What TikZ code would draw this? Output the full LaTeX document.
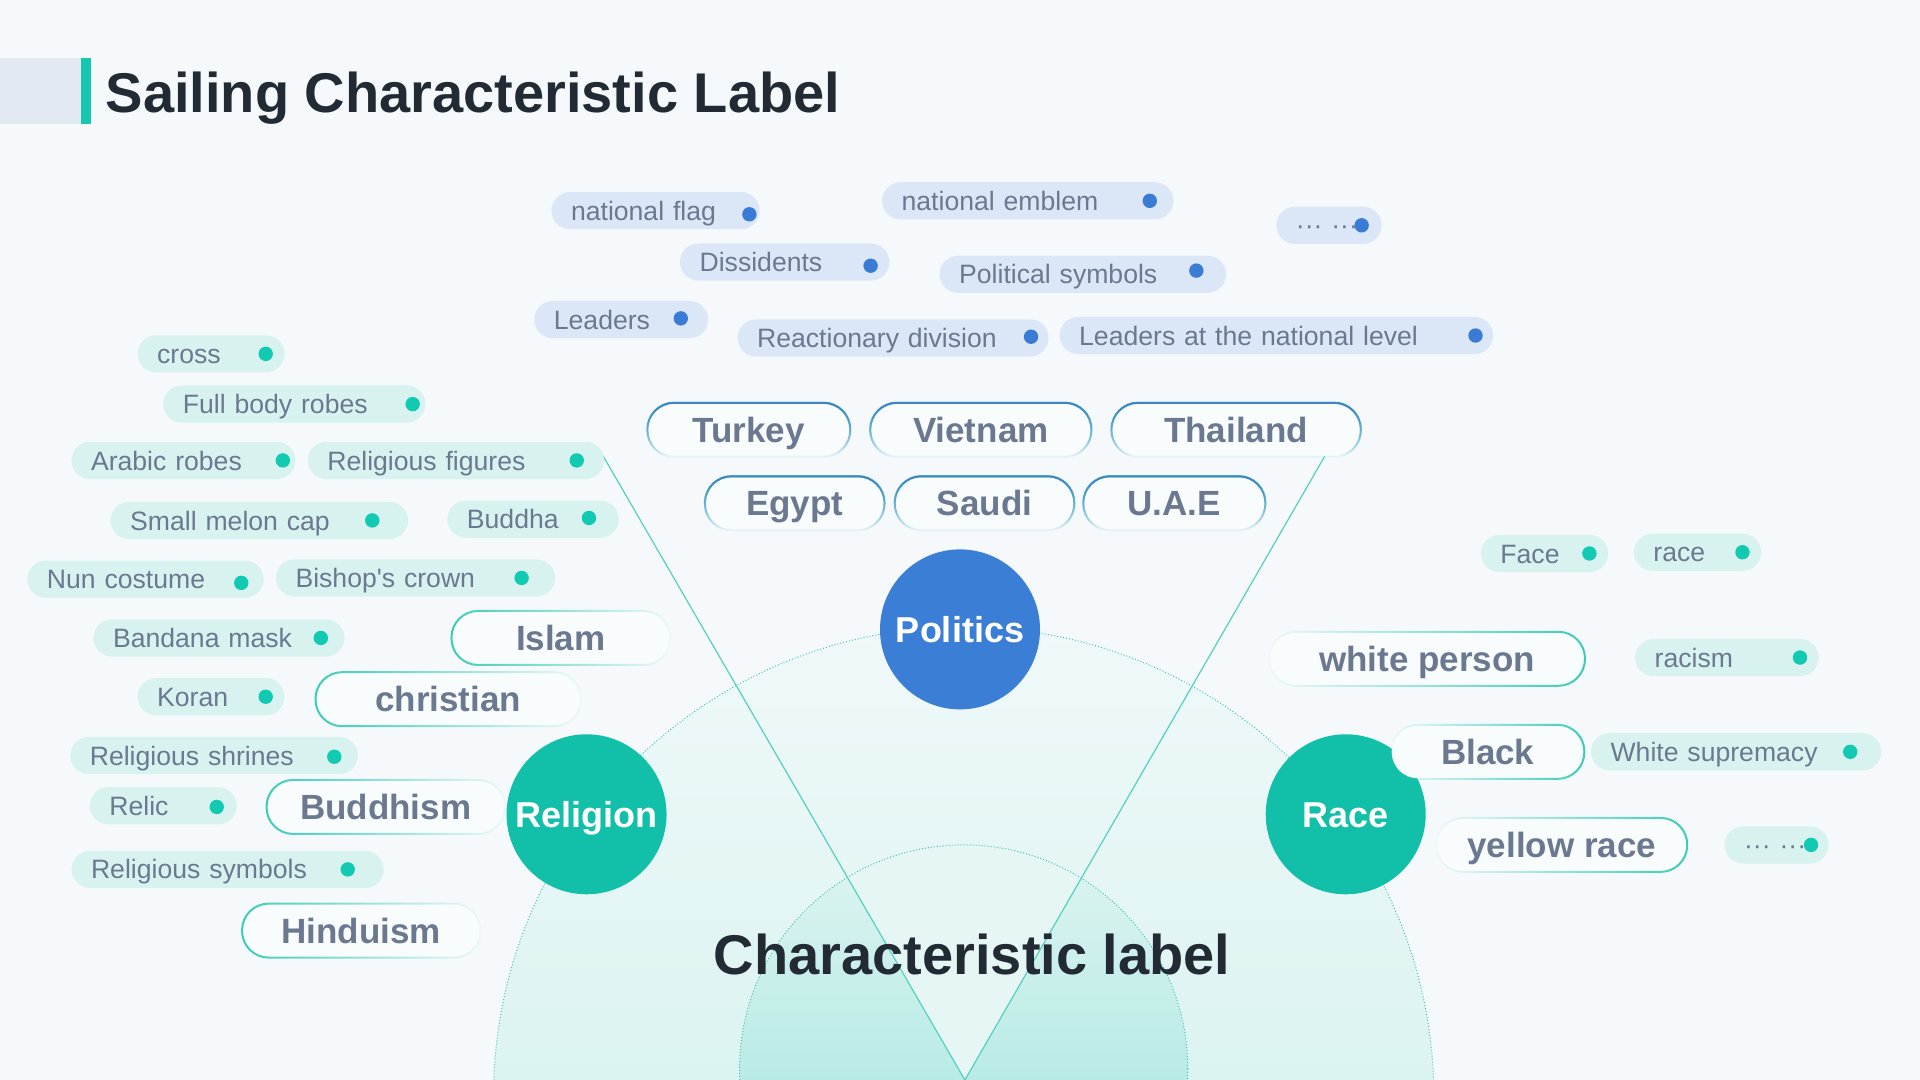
\documentclass[tikz,border=0pt]{standalone}
\usepackage{fontspec}
\setmainfont{Liberation Sans}
\usetikzlibrary{fadings}
\definecolor{bgcol}{HTML}{F5F9FC}
\definecolor{headgray}{HTML}{E3E9F0}
\definecolor{barteal}{HTML}{17C8B1}
\definecolor{hubteal}{HTML}{12BFA9}
\definecolor{hubblue}{HTML}{3B7ED6}
\definecolor{darktext}{HTML}{222B33}
\definecolor{taggray}{HTML}{6B7990}
\definecolor{tagteal}{HTML}{D8F3EF}
\definecolor{tagblue}{HTML}{DBE7F6}
\definecolor{dotteal}{HTML}{12C9B1}
\definecolor{dotblue}{HTML}{3A7BD6}
\definecolor{lineteal}{HTML}{55D0C0}
\definecolor{ringteal}{HTML}{3FC5B3}
\definecolor{rimteal}{HTML}{3CCBB8}
\definecolor{rimblue}{HTML}{3F82C8}
\definecolor{pillbg}{HTML}{F9FCFD}
\tikzfading[name=fadeR, left color=transparent!0, middle color=transparent!45, right color=transparent!97]
\tikzfading[name=fadeL, left color=transparent!97, middle color=transparent!45, right color=transparent!0]
\tikzfading[name=fadeD, top color=transparent!0, middle color=transparent!40, bottom color=transparent!97]
\tikzfading[name=fadeT, top color=transparent!0, middle color=transparent!90, bottom color=transparent!100]
\tikzset{
  tagw/.code={\pgfmathsetlengthmacro\tagtw{(#1-32)*0.6122pt}\edef\tagtmp{\noexpand\tikzset{text width=\tagtw}}\tagtmp},
  tag/.style={rectangle, rounded corners=9.3pt, minimum height=18.6pt, inner xsep=9.8pt, inner ysep=0pt,
    anchor=west, align=left, text=taggray, font=\fontsize{13.3}{15}\selectfont, text height=9.6pt, text depth=0pt},
  btag/.style={tag, fill=tagblue},
  ttag/.style={tag, fill=tagteal},
  bdot/.style={circle, fill=dotblue, inner sep=0pt, minimum size=7.2pt},
  tdot/.style={bdot, fill=dotteal},
  pw/.style={minimum width=#1*0.6122pt},
  pill/.style={rectangle, rounded corners=13.3pt, minimum height=26.6pt, inner sep=0pt, fill=pillbg, text=taggray,
    font=\bfseries\fontsize{17.5}{20}\selectfont, text height=12.6pt, text depth=0pt},
  relrim/.style={draw=rimteal, line width=1pt, rounded corners=13.3pt, path fading=fadeR},
  racerim/.style={draw=rimteal, line width=1pt, rounded corners=13.3pt, path fading=fadeL},
  cntrim/.style={draw=rimteal, line width=1pt, rounded corners=13.3pt, path fading=fadeD},
  cnttop/.style={draw=rimblue, line width=1pt, rounded corners=13.3pt, path fading=fadeT},
  hub/.style={circle, minimum size=80pt, inner sep=0pt, text=white, font=\bfseries\fontsize{18}{20}\selectfont,
    text height=12.9pt, text depth=0pt},
  ring/.style={draw=ringteal, densely dotted, line width=0.5pt},
  vline/.style={draw=lineteal, line width=0.6pt},
}
\begin{document}
\begin{tikzpicture}[x=0.6122pt, y=-0.6122pt]
  \useasboundingbox (0,0) rectangle (1568,882);
  \fill[bgcol] (0,0) rectangle (1568,882);
  \fill[headgray] (0,47) rectangle (66,101);
  \fill[barteal] (66,47) rectangle (74,101);
  \node[anchor=base west, inner sep=0pt, text=darktext, font=\bfseries\fontsize{28}{32}\selectfont] (title) at (86,92) {Sailing Characteristic Label};

  \coordinate (bigc) at (787,896);
  \coordinate (smallc) at (787,873);
  \coordinate (vbot) at (788,882);
  \coordinate (vl) at (490,368);
  \coordinate (vr) at (1092,355);
  \begin{scope}
    \clip (0,0) rectangle (1568,882);
    \shade[top color=white!40!tagteal!35!bgcol, bottom color=tagteal!90!hubteal] (bigc) circle (384);
    \shade[top color=tagteal!80!bgcol, bottom color=tagteal!50!hubteal!75] (smallc) circle (183);
    \begin{scope}
      \clip (smallc) circle (183);
      \fill[tagteal!55!bgcol] (vl) -- (vbot) -- (vr) -- cycle;
    \end{scope}
    \draw[ring] (bigc) circle (384);
    \draw[ring] (smallc) circle (183);
  \end{scope}
  \draw[vline] (vl) -- (vbot) -- (vr);
  \node[anchor=base, inner sep=0pt, text=darktext, font=\bfseries\fontsize{28}{32}\selectfont] (clabel) at (794,796) {Characteristic label};

  \node[hub, fill=hubblue] (politics) at (784,514) {Politics};
  \node[hub, fill=hubteal] (religion) at (479,665) {Religion};
  \node[hub, fill=hubteal] (race) at (1099,665) {Race};

  \node[btag, tagw=170] (flag) at (450,172) {national flag};
  \node[bdot] (flagdot) at (612,175) {};
  \node[btag, tagw=238] (emblem) at (720,164) {national emblem};
  \node[bdot] (emblemdot) at (939,164) {};
  \node[btag, tagw=86] (pmore) at (1042,184) {··· ···};
  \node[bdot] (pmoredot) at (1112,184) {};
  \node[btag, tagw=171] (dissid) at (555,214) {Dissidents};
  \node[bdot] (disdot) at (711,217) {};
  \node[btag, tagw=234] (psym) at (767,224) {Political symbols};
  \node[bdot] (psymdot) at (977,221) {};
  \node[btag, tagw=142] (leaders) at (436,261) {Leaders};
  \node[bdot] (leaddot) at (556,260) {};
  \node[btag, tagw=254] (react) at (602,276) {Reactionary division};
  \node[bdot] (reactdot) at (842,275) {};
  \node[btag, tagw=354] (nleaders) at (865,274) {Leaders at the national level};
  \node[bdot] (nleaddot) at (1205,274) {};

  \node[pill, pw=165] (turkey) at (611.5,351) {Turkey};
  \node[pill, pw=180] (vietnam) at (801,351) {Vietnam};
  \node[pill, pw=203] (thailand) at (1009.5,351) {Thailand};
  \node[pill, pw=146] (egypt) at (649,411) {Egypt};
  \node[pill, pw=146] (saudi) at (804,411) {Saudi};
  \node[pill, pw=148] (uae) at (959,411) {U.A.E};
  \foreach \p in {turkey,vietnam,thailand,egypt,saudi,uae}{
    \draw[cntrim] (\p.south west) rectangle (\p.north east);
    \draw[cnttop] (\p.south west) rectangle (\p.north east);
  }

  \node[ttag, tagw=120] (cross) at (112,289) {cross};
  \node[tdot] (crossdot) at (217,289) {};
  \node[ttag, tagw=214] (robes) at (133,330) {Full body robes};
  \node[tdot] (robesdot) at (337,330) {};
  \node[ttag, tagw=183] (arabic) at (58,376) {Arabic robes};
  \node[tdot] (arabicdot) at (231,376) {};
  \node[ttag, tagw=242] (figures) at (251,376) {Religious figures};
  \node[tdot] (figdot) at (471,376) {};
  \node[ttag, tagw=243] (melon) at (90,425) {Small melon cap};
  \node[tdot] (melondot) at (304,425) {};
  \node[ttag, tagw=140] (buddha) at (365,424) {Buddha};
  \node[tdot] (buddhadot) at (481,423) {};
  \node[ttag, tagw=193] (nun) at (22,473) {Nun costume};
  \node[tdot] (nundot) at (197,476) {};
  \node[ttag, tagw=228] (bishop) at (225,472) {Bishop\textquotesingle s crown};
  \node[tdot] (bishopdot) at (426,472) {};
  \node[ttag, tagw=205] (bandana) at (76,521) {Bandana mask};
  \node[tdot] (bandanadot) at (262,521) {};
  \node[ttag, tagw=120] (koran) at (112,569) {Koran};
  \node[tdot] (korandot) at (217,569) {};
  \node[ttag, tagw=235] (shrines) at (57,617) {Religious shrines};
  \node[tdot] (shrinedot) at (273,618) {};
  \node[ttag, tagw=120] (relic) at (73,658) {Relic};
  \node[tdot] (relicdot) at (177,659) {};
  \node[ttag, tagw=255] (rsym) at (58,710) {Religious symbols};
  \node[tdot] (rsymdot) at (284,710) {};

  \node[pill, pw=178] (islam) at (458,521) {Islam};
  \node[pill, pw=216] (christian) at (366,571) {christian};
  \node[pill, pw=194] (buddhism) at (315,659) {Buddhism};
  \node[pill, pw=194] (hinduism) at (295,760) {Hinduism};
  \foreach \p in {islam,christian,buddhism,hinduism}
    \draw[relrim] (\p.south west) rectangle (\p.north east);

  \node[ttag, tagw=104] (face) at (1209,452) {Face};
  \node[tdot] (facedot) at (1298,452) {};
  \node[ttag, tagw=104] (racetag) at (1334,451) {race};
  \node[tdot] (racedot) at (1423,451) {};
  \node[ttag, tagw=150] (racism) at (1335,537) {racism};
  \node[tdot] (racismdot) at (1470,537) {};
  \node[ttag, tagw=237] (suprem) at (1299,614) {White supremacy};
  \node[tdot] (supremdot) at (1511,614) {};
  \node[ttag, tagw=85] (rmore) at (1408,690) {··· ···};
  \node[tdot] (rmoredot) at (1479,690) {};

  \node[pill, pw=257] (white) at (1165.5,538) {white person};
  \node[pill, pw=157] (black) at (1215,614) {Black};
  \node[pill, pw=204] (yellow) at (1275.5,690) {yellow race};
  \foreach \p in {white,black,yellow}
    \draw[racerim] (\p.south west) rectangle (\p.north east);
\end{tikzpicture}
\end{document}
